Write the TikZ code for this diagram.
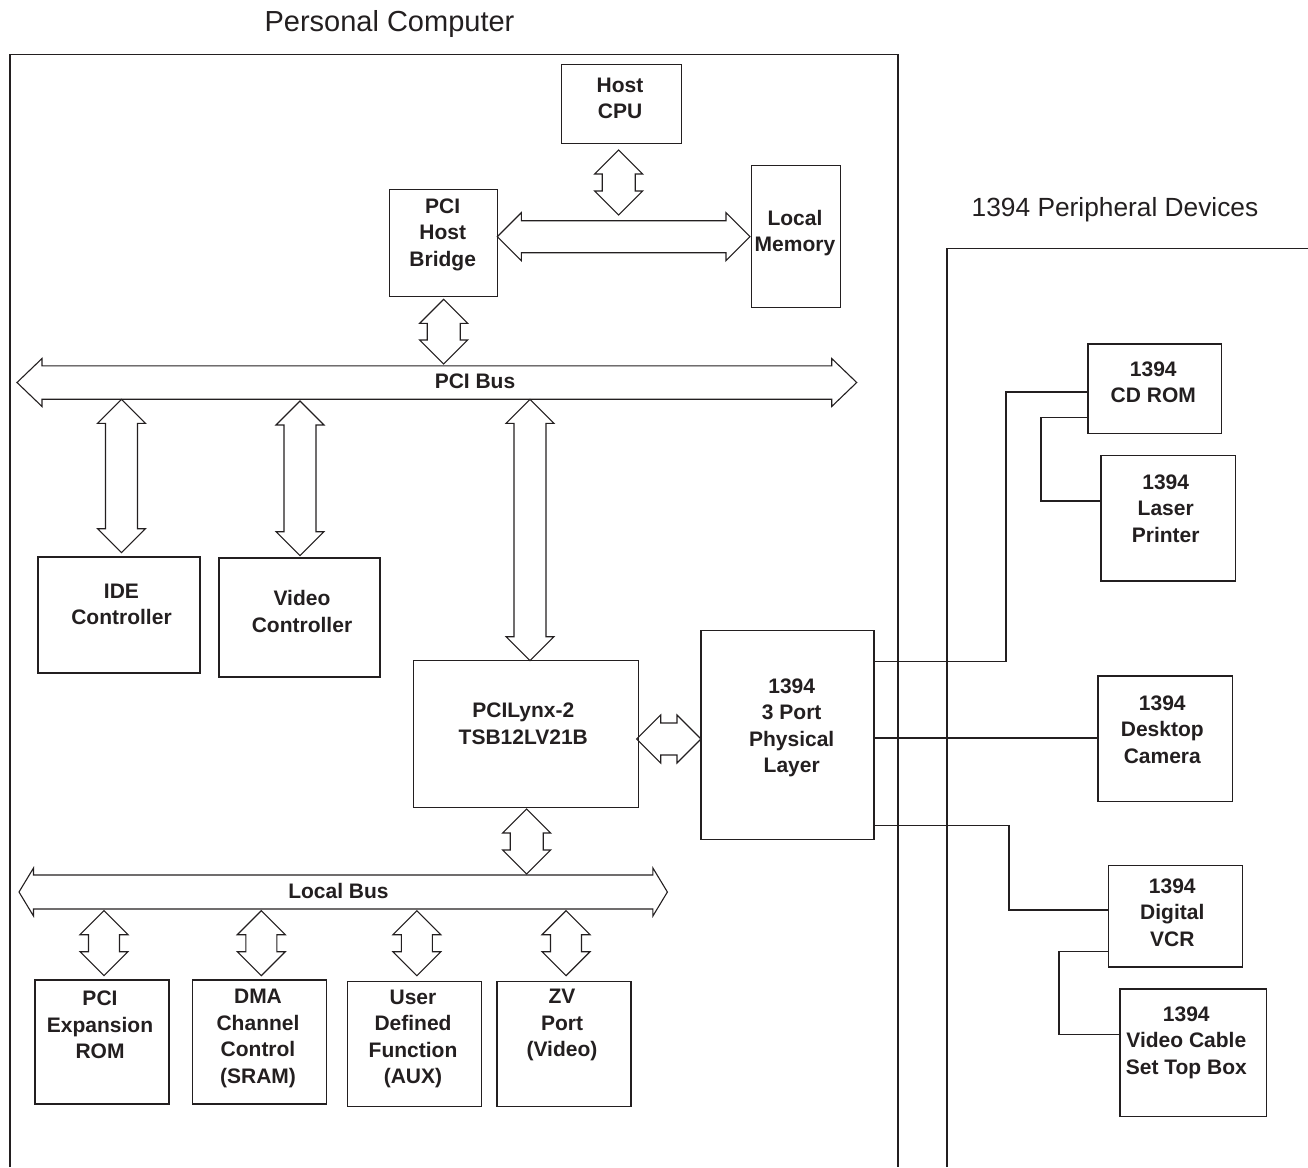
\documentclass[tikz,border=0pt]{standalone}
\usepackage{fontspec}
\setmainfont{Liberation Sans}
\usetikzlibrary{fit,calc}
\definecolor{ink}{RGB}{35,31,32}
\newcommand\dblH[5]{% x1, x2, y, head length, shaft half width
  \draw[arr] (#1,#3) -- ({#1+#4},{#3-24}) -- ({#1+#4},{#3-#5}) -- ({#2-#4},{#3-#5}) -- ({#2-#4},{#3-24}) -- (#2,#3)
    -- ({#2-#4},{#3+24}) -- ({#2-#4},{#3+#5}) -- ({#1+#4},{#3+#5}) -- ({#1+#4},{#3+24}) -- cycle;}
\newcommand\dblV[5]{% x, y1, y2, head length, shaft half width
  \draw[arr] (#1,#2) -- ({#1+24},{#2+#4}) -- ({#1+#5},{#2+#4}) -- ({#1+#5},{#3-#4}) -- ({#1+24},{#3-#4}) -- (#1,#3)
    -- ({#1-24},{#3-#4}) -- ({#1-#5},{#3-#4}) -- ({#1-#5},{#2+#4}) -- ({#1-24},{#2+#4}) -- cycle;}
\begin{document}
\begin{tikzpicture}[x=1pt,y=-1pt,
  line/.style={draw=ink,line width=1.1pt},
  arr/.style={draw=ink,line width=1.1pt,line join=miter},
  box/.style={draw=ink,line width=1.1pt,inner sep=0pt,outer sep=0pt},
  lbl/.style={text=ink,font=\fontsize{21}{26.5}\selectfont\bfseries,align=center,anchor=base,inner sep=0pt},
  ttl/.style={text=ink,anchor=base,inner sep=0pt}]
\useasboundingbox (0,0) rectangle (1308,1167);
% enclosures
\draw[line] (10,1167) -- (10,54.5) -- (898,54.5) -- (898,1167);
\draw[line] (947,1167) -- (947,248.3) -- (1308,248.3);
\node[ttl,font=\fontsize{29}{34}\selectfont] (pcT) at (389.5,31.7) {Personal Computer};
\node[ttl,font=\fontsize{26.3}{31}\selectfont] (perT) at (1115,216.7) {1394 Peripheral Devices};
% boxes
\node[box,fit={(561.7,64.3) (681.7,143.7)}] (cpu) {};
\node[box,fit={(389.3,189.3) (497.3,296.7)}] (bridge) {};
\node[box,fit={(751.7,165.7) (840.7,307.3)}] (mem) {};
\node[box,fit={(38,557) (200,673)}] (ide) {};
\node[box,fit={(219,558) (380,677)}] (video) {};
\node[box,fit={(413.3,660.7) (638.3,807.3)}] (lynx) {};
\node[box,fit={(701,630.7) (874,839.7)}] (phy) {};
\node[box,fit={(35,980) (169,1104)}] (pciexp) {};
\node[box,fit={(192.4,980) (326.3,1104)}] (dma) {};
\node[box,fit={(347.5,981.7) (481.5,1106.7)}] (user) {};
\node[box,fit={(497,981.7) (631,1106.7)}] (zv) {};
\node[box,fit={(1088,344) (1221.7,433.7)}] (cd) {};
\node[box,fit={(1101,455.7) (1235.7,581)}] (laser) {};
\node[box,fit={(1098,676) (1232.3,801.7)}] (cam) {};
\node[box,fit={(1108.7,865.7) (1242.7,967)}] (vcr) {};
\node[box,fit={(1120,989) (1266.3,1116.7)}] (stb) {};
% labels
\node[lbl] (cpuT) at (620,118.7) {Host\\CPU};
\node[lbl] (bridgeT) at (442.7,266) {PCI\\Host\\Bridge};
\node[lbl] (memT) at (795,251.5) {Local\\Memory};
\node[lbl] (lynxT) at (523.3,744) {PCILynx-2\\TSB12LV21B};
\node[lbl] (phyT) at (791.7,772.5) {1394\\3 Port\\Physical\\Layer};
\node[lbl] (ideT) at (121.5,624.7) {IDE\\Controller};
\node[lbl] (videoT) at (302,632) {Video\\Controller};
\node[lbl] (pciexpT) at (100,1058.7) {PCI\\Expansion\\ROM};
\node[lbl] (dmaT) at (258,1083) {DMA\\Channel\\Control\\(SRAM)};
\node[lbl] (userT) at (413,1083.5) {User\\Defined\\Function\\(AUX)};
\node[lbl] (zvT) at (562,1056.5) {ZV\\Port\\(Video)};
\node[lbl] (cdT) at (1153.3,402.7) {1394\\CD ROM};
\node[lbl] (laserT) at (1165.7,542) {1394\\Laser\\Printer};
\node[lbl] (camT) at (1162.3,763) {1394\\Desktop\\Camera};
\node[lbl] (vcrT) at (1172.3,946) {1394\\Digital\\VCR};
\node[lbl] (stbT) at (1186.3,1074) {1394\\Video Cable\\Set Top Box};
% buses
\dblH{17}{856.7}{382.5}{25}{16.7}
\node[lbl] (pcibusT) at (475,388.5) {PCI Bus};
\dblH{19}{667.4}{892}{14.5}{17}
\node[lbl] (localbusT) at (338.5,898.5) {Local Bus};
% double arrows
\dblV{618.7}{150}{215}{24}{16.5}
\dblH{497.3}{750}{236.7}{24}{16}
\dblV{443.7}{299.3}{364}{24}{16.5}
\dblV{121.5}{399.3}{552.7}{24}{16}
\dblV{300}{401}{555.7}{24}{16}
\dblV{530}{399.3}{660.7}{24}{16}
\dblH{636.7}{701}{739}{24}{16}
\dblV{526.7}{809}{874}{24}{16.5}
\dblV{104}{910.7}{975.7}{24}{15.5}
\dblV{261.3}{910.7}{975.7}{24}{15.5}
\dblV{416.9}{910.7}{975.7}{24}{15.5}
\dblV{566}{910.7}{975.7}{24}{15.5}
% 1394 cabling
\coordinate (j1) at (1006,392);
\coordinate (j2) at (1041,417.7);
\coordinate (j3) at (1009,910);
\coordinate (j4) at (1059,951.3);
\draw[line] (phy.east |- 0,661.7) -| (j1) -- (j1 -| cd.west);
\draw[line] (j2 -| cd.west) -- (j2) |- (laser.west |- 0,501);
\draw[line] (phy.east |- 0,738) -- (cam.west |- 0,738);
\draw[line] (phy.east |- 0,825.7) -| (j3) -- (j3 -| vcr.west);
\draw[line] (j4 -| vcr.west) -- (j4) |- (stb.west |- 0,1034.3);
\end{tikzpicture}
\end{document}
